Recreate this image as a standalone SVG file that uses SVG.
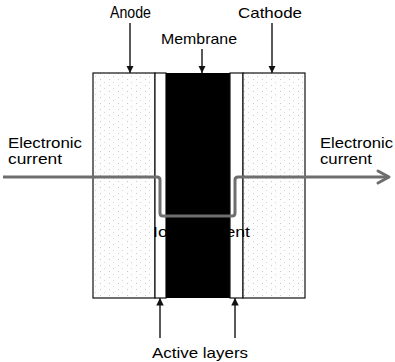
<svg xmlns="http://www.w3.org/2000/svg" width="395" height="362" viewBox="0 0 395 362">
  <style>
    .lbl { font-family: "Liberation Sans", Arial, sans-serif; font-size: 15px; fill: #000; }
    .ptr { stroke: #222; stroke-width: 1.5; fill: none; }
    .box { stroke: #111; stroke-width: 1.2; }
    .cur { stroke: #6e6e6e; stroke-width: 3; fill: none; stroke-linejoin: round; }
  </style>
  <defs>
    <pattern id="stip" width="9" height="6" patternUnits="userSpaceOnUse">
      <rect width="9" height="6" fill="#fdfdfd"/>
      <rect x="1" y="1" width="1" height="1" fill="#c8c8c8"/>
      <rect x="5" y="4" width="1" height="1" fill="#d6d6d6"/>
    </pattern>
    <marker id="tri" viewBox="0 0 10 10" refX="10" refY="5" markerWidth="5" markerHeight="5" orient="auto">
      <path d="M0,0 L10,5 L0,10 Z" fill="#111"/>
    </marker>
  </defs>
  <rect width="395" height="362" fill="#fff"/>

  <g id="anode">
    <rect class="box" x="93" y="73" width="62" height="225" fill="url(#stip)"/>
    <text class="lbl" x="110" y="18" style="font-size:16px" textLength="41" lengthAdjust="spacingAndGlyphs">Anode</text>
  </g>
  <g id="active-left">
    <rect class="box" x="155" y="73" width="11" height="225" fill="#fff"/>
  </g>
  <g id="membrane">
    <rect x="166" y="73" width="64" height="225" fill="#000"/>
    <text class="lbl" x="161" y="44" textLength="76" lengthAdjust="spacingAndGlyphs">Membrane</text>
  </g>
  <g id="active-right">
    <rect class="box" x="230" y="73" width="13" height="225" fill="#fff"/>
  </g>
  <g id="cathode">
    <rect class="box" x="243" y="73" width="62" height="225" fill="url(#stip)"/>
    <text class="lbl" x="238" y="18" textLength="64" lengthAdjust="spacingAndGlyphs">Cathode</text>
  </g>

  <g id="connectors">
    <line class="ptr" x1="130" y1="23" x2="130" y2="73" marker-end="url(#tri)"/>
    <line class="ptr" x1="202" y1="49" x2="202" y2="73" marker-end="url(#tri)"/>
    <line class="ptr" x1="272" y1="23" x2="272" y2="73" marker-end="url(#tri)"/>
    <line class="ptr" x1="160" y1="338" x2="160" y2="298" marker-end="url(#tri)"/>
    <line class="ptr" x1="235" y1="338" x2="235" y2="298" marker-end="url(#tri)"/>
    <path class="cur" d="M3,177 H157 Q160,177 160,180 V213 Q160,216 163,216 H232 Q235,216 235,213 V180 Q235,177 238,177 H389"/>
    <path class="cur" d="M378,171 L389,177 L378,183" stroke-linecap="round"/>
  </g>

  <g id="labels">
    <text class="lbl" x="8" y="148" textLength="74" lengthAdjust="spacingAndGlyphs">Electronic</text>
    <text class="lbl" x="8" y="164" textLength="54" lengthAdjust="spacingAndGlyphs">current</text>
    <text class="lbl" x="320" y="148" textLength="73" lengthAdjust="spacingAndGlyphs">Electronic</text>
    <text class="lbl" x="320" y="164" textLength="52" lengthAdjust="spacingAndGlyphs">current</text>
    <text class="lbl" x="153" y="237" textLength="97" lengthAdjust="spacingAndGlyphs">Ionic current</text>
    <text class="lbl" x="152" y="358" textLength="96" lengthAdjust="spacingAndGlyphs">Active layers</text>
  </g>
</svg>
